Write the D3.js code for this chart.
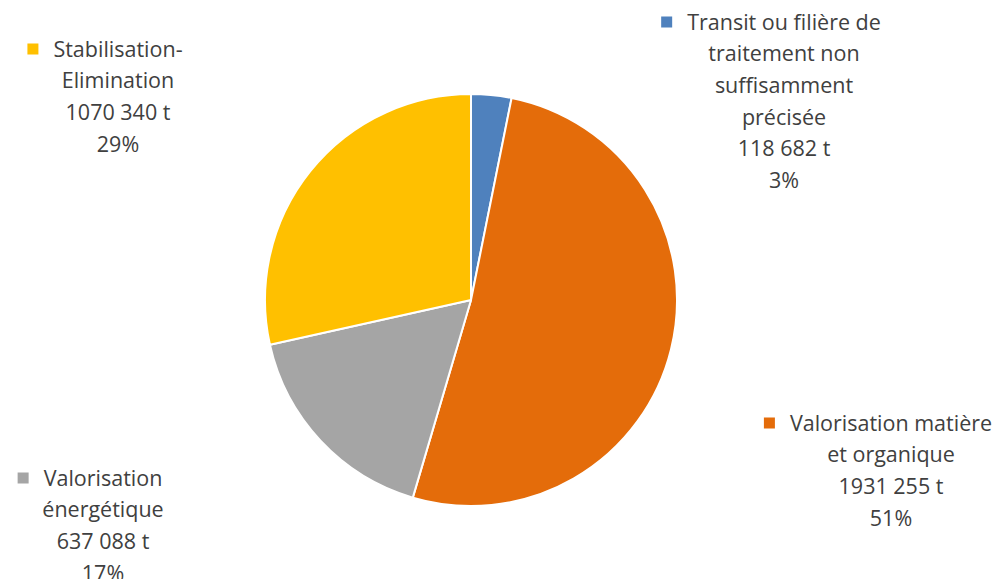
<!DOCTYPE html>
<html>
<head>
<meta charset="utf-8">
<script src="https://cdn.jsdelivr.net/npm/d3@7"></script>
<style>
  html, body { margin: 0; padding: 0; background: #fff; }
  svg { display: block; }
  text { font-family: "Open Sans", "Liberation Sans", sans-serif; fill: #404040; }
</style>
</head>
<body>
<svg id="chart" width="999" height="579"></svg>
<script>
// Waste treatment routes (tonnes)
const categories = [
  "Transit ou filière de traitement non suffisamment précisée",
  "Valorisation matière et organique",
  "Valorisation énergétique",
  "Stabilisation-Elimination"
];
const tonnes = [118682, 1931255, 637088, 1070340];
const tonnageLabels = ["118 682 t", "1931 255 t", "637 088 t", "1070 340 t"];
const percentLabels = ["3%", "51%", "17%", "29%"];
const nameLines = [
  ["Transit ou filière de", "traitement non", "suffisamment", "précisée"],
  ["Valorisation matière", "et organique"],
  ["Valorisation", "énergétique"],
  ["Stabilisation-", "Elimination"]
];
const colors = ["#4f81bd", "#e46c0a", "#a5a5a5", "#ffc000"];

// Label block anchors (centre x, first line centre y)
const labelPos = [
  { x: 784, y: 22 },
  { x: 891, y: 423 },
  { x: 103, y: 478 },
  { x: 118, y: 49 }
];

const svg = d3.select("#chart");
const cx = 471, cy = 300, radius = 206;

const color = d3.scaleOrdinal().domain(categories).range(colors);
const pie = d3.pie().sort(null).value(d => d.value);
const arc = d3.arc().innerRadius(0).outerRadius(radius);

const data = categories.map((c, i) => ({ name: c, value: tonnes[i], i }));

const g = svg.append("g").attr("transform", `translate(${cx},${cy})`);
g.selectAll("path")
  .data(pie(data))
  .join("path")
  .attr("d", arc)
  .attr("fill", d => color(d.data.name))
  .attr("stroke", "#fff")
  .attr("stroke-width", 2)
  .attr("stroke-linejoin", "round");

// Data labels with legend key
const lineH = 31.7;
const fontSize = 21.5;
data.forEach((d, i) => {
  const lines = nameLines[i].concat([tonnageLabels[i], percentLabels[i]]);
  const grp = svg.append("g");
  const texts = grp.selectAll("text")
    .data(lines)
    .join("text")
    .attr("x", labelPos[i].x)
    .attr("y", (t, k) => labelPos[i].y + k * lineH)
    .attr("dy", "0.35em")
    .attr("text-anchor", "middle")
    .attr("font-size", fontSize)
    .text(t => t);
  const first = texts.node().getBBox();
  grp.append("rect")
    .attr("x", first.x - 26)
    .attr("y", labelPos[i].y - 5.5)
    .attr("width", 11)
    .attr("height", 11)
    .attr("fill", color(d.name));
});
</script>
</body>
</html>
